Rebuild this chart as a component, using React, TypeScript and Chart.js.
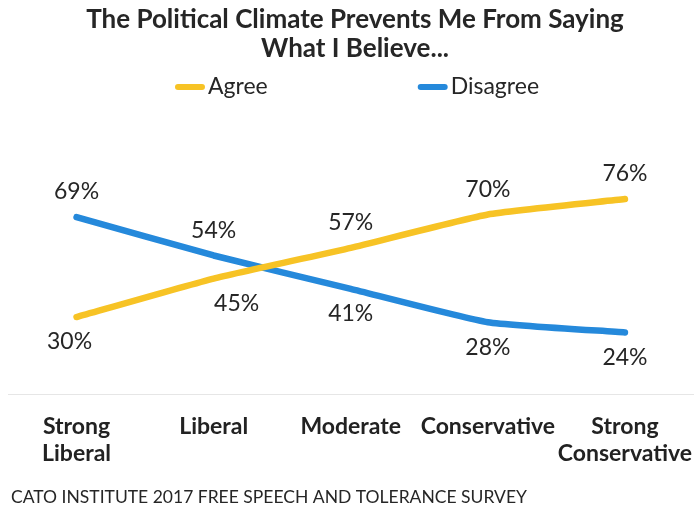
import React, { useEffect, useRef } from "react";
import { Chart, registerables } from "chart.js";

Chart.register(...registerables);

const categories: string[][] = [
  ["Strong", "Liberal"],
  ["Liberal"],
  ["Moderate"],
  ["Conservative"],
  ["Strong", "Conservative"],
];
const agreeValues: number[] = [30, 45, 57, 70, 76];
const disagreeValues: number[] = [69, 54, 41, 28, 24];
const seriesNames: string[] = ["Agree", "Disagree"];
const titleLines: string[] = ["The Political Climate Prevents Me From Saying", "What I Believe..."];
const sourceText = "CATO INSTITUTE 2017 FREE SPEECH AND TOLERANCE SURVEY";

const YELLOW = "#F7C325";
const BLUE = "#2589DB";
const TEXT = "#262626";

const headerPlugin = {
  id: "header",
  afterDraw(chart: any) {
    const ctx = chart.ctx as CanvasRenderingContext2D;
    const w = chart.width;
    ctx.save();
    // title
    ctx.fillStyle = TEXT;
    ctx.textAlign = "center";
    ctx.textBaseline = "middle";
    ctx.font = "bold 26px Lato";
    const cx = w / 2 + 7;
    titleLines.forEach((t, i) => ctx.fillText(t, cx, 20 + i * 29));
    // legend
    ctx.font = "23px Lato";
    const markerW = 30;
    const gapText = 3;
    const gapItems = 150;
    const widths = chart.data.datasets.map(
      (ds: any) => markerW + gapText + ctx.measureText(ds.label).width
    );
    const total = widths.reduce((a: number, b: number) => a + b, 0) + gapItems * (widths.length - 1);
    let x = 357 - total / 2;
    const y = 87;
    chart.data.datasets.forEach((ds: any, i: number) => {
      ctx.strokeStyle = ds.borderColor;
      ctx.lineWidth = 6;
      ctx.lineCap = "round";
      ctx.beginPath();
      ctx.moveTo(x + 3, y);
      ctx.lineTo(x + markerW - 3, y);
      ctx.stroke();
      ctx.fillStyle = TEXT;
      ctx.textAlign = "left";
      ctx.fillText(ds.label, x + markerW + gapText, y);
      x += widths[i] + gapItems;
    });
    // footer / source
    ctx.font = "17.5px Lato";
    ctx.fillStyle = TEXT;
    ctx.textAlign = "left";
    ctx.fillText(sourceText, 11, 497);
    ctx.restore();
  },
};

const valueLabelPlugin = {
  id: "valueLabels",
  afterDatasetsDraw(chart: any, _args: any, opts: any) {
    const ctx = chart.ctx as CanvasRenderingContext2D;
    const datasets = chart.data.datasets;
    ctx.save();
    ctx.font = "23px Lato";
    ctx.fillStyle = TEXT;
    ctx.textAlign = "center";
    ctx.textBaseline = "middle";
    datasets.forEach((ds: any, di: number) => {
      const meta = chart.getDatasetMeta(di);
      meta.data.forEach((pt: any, i: number) => {
        const v = ds.data[i];
        const others = datasets.filter((_: any, k: number) => k !== di).map((d: any) => d.data[i]);
        const isTop = others.every((o: number) => v >= o);
        const shift = (opts.shifts && opts.shifts[`${di}-${i}`]) || 0;
        const dy = isTop ? -25 : 25;
        ctx.fillText(`${v}%`, pt.x + shift, pt.y + dy);
      });
    });
    ctx.restore();
  },
};

export default function App() {
  const canvasRef = useRef<HTMLCanvasElement | null>(null);

  useEffect(() => {
    document.body.style.margin = "0";
    const canvas = canvasRef.current;
    if (!canvas) return;
    const chart = new Chart(canvas, {
      type: "line",
      data: {
        labels: categories,
        datasets: [
          {
            label: seriesNames[0],
            data: agreeValues,
            borderColor: YELLOW,
            backgroundColor: YELLOW,
            borderWidth: 6.5,
            borderCapStyle: "round",
            borderJoinStyle: "round",
            tension: 0.15,
            pointRadius: 0,
            pointHoverRadius: 0,
          },
          {
            label: seriesNames[1],
            data: disagreeValues,
            borderColor: BLUE,
            backgroundColor: BLUE,
            borderWidth: 6.5,
            borderCapStyle: "round",
            borderJoinStyle: "round",
            tension: 0.15,
            pointRadius: 0,
            pointHoverRadius: 0,
          },
        ],
      },
      options: {
        responsive: true,
        maintainAspectRatio: false,
        animation: false,
        layout: { padding: { top: 137.5, left: 8, right: 2.5, bottom: 52.5 } },
        plugins: {
          legend: { display: false },
          title: { display: false },
          tooltip: { enabled: false },
          valueLabels: { shifts: { "0-0": -7, "0-1": 23 } },
        } as any,
        scales: {
          x: {
            offset: true,
            grid: { display: false, drawTicks: false },
            border: { display: true, color: "#e6e6e6", width: 1 },
            afterFit: (scale: any) => {
              scale.height = 71.5;
              scale.paddingLeft = 0;
              scale.paddingRight = 0;
            },
            ticks: {
              color: "#222",
              padding: 19.5,
              maxRotation: 0,
              autoSkip: false,
              font: { family: "Lato", size: 23, weight: "bold", lineHeight: 1.174 },
            },
          },
          y: {
            display: false,
            min: 0,
            max: 100,
          },
        },
      },
      plugins: [headerPlugin, valueLabelPlugin],
    });
    return () => chart.destroy();
  }, []);

  return (
    <div style={{ position: "relative", width: "696px", height: "518px", background: "#fff" }}>
      <canvas ref={canvasRef} />
    </div>
  );
}
